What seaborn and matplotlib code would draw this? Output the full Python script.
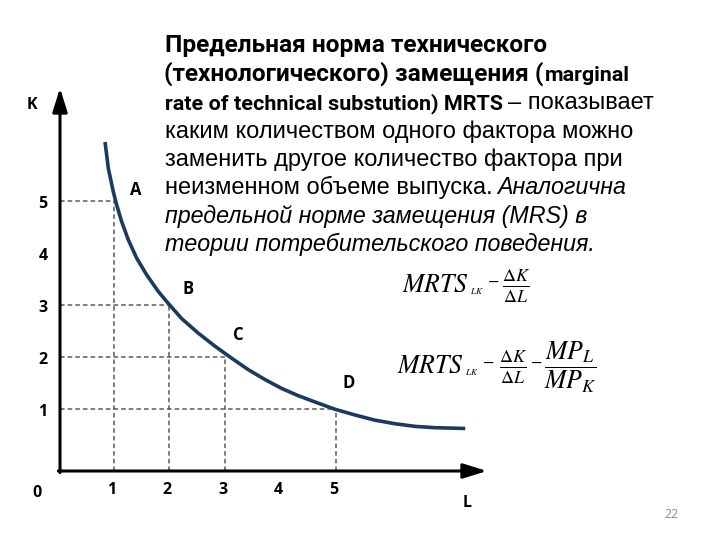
import matplotlib
matplotlib.use("Agg")
import matplotlib.pyplot as plt
import matplotlib.transforms as mtrans
import seaborn as sns

# ---------------- data ----------------
L_curve = [0.84, 0.90, 0.99, 1.05, 1.14, 1.26, 1.41, 1.59, 1.80, 1.98, 2.22,
           2.52, 2.82, 3.12, 3.42, 3.72, 4.02, 4.32, 4.62, 4.98, 5.34, 5.70,
           6.07, 6.43, 6.79, 7.33]
K_curve = [6.13, 5.62, 5.17, 4.92, 4.60, 4.25, 3.90, 3.58, 3.26, 3.03, 2.74,
           2.46, 2.21, 1.98, 1.76, 1.57, 1.40, 1.26, 1.14, 1.00, 0.89, 0.79,
           0.72, 0.67, 0.645, 0.63]
point_names = ["A", "B", "C", "D"]
L_points = [1, 2, 3, 5]
K_points = [5, 3, 2, 1]
x_ticks = [1, 2, 3, 4, 5]
y_ticks = [1, 2, 3, 4, 5]

# ---------------- layout ----------------
W, H = 720, 540
X0, XS = 58.4, 55.5     # pixel of L=0, pixels per unit
Y0, YS = 461.3, 52.1    # pixel of K=0, pixels per unit
label_offsets = [(22, 11), (19, 16), (13, 22), (13, 26)]

sns.set_style("white")
plt.rcParams["mathtext.fontset"] = "stix"

fig = plt.figure(figsize=(7.2, 5.4), dpi=100)
ax = fig.add_axes([0, 0, 1, 1])
ax.set_xlim(-X0 / XS, (W - X0) / XS)
ax.set_ylim((Y0 - H) / YS, Y0 / YS)
ax.axis("off")

def dx(px):
    return (px - X0) / XS

def dy(py):
    return (Y0 - py) / YS

ox, oy = dx(60), dy(471)

# dashed guide lines
guide = dict(color="#5a5a5a", lw=1.1, linestyle=(0, (3, 2)), zorder=1)
ax.hlines(K_points, ox, L_points, **guide)
ax.vlines(L_points, oy, K_points, **guide)

# isoquant
sns.lineplot(x=L_curve, y=K_curve, sort=False, ax=ax, color="#1c3a60",
             lw=2.6, zorder=3)
ax.lines[-1].set_solid_capstyle("butt")
ax.lines[-1].set_solid_joinstyle("round")

# axes with arrows
arrow = dict(arrowstyle="-|>,head_length=0.9,head_width=0.28", lw=2.2,
             color="black", shrinkA=0, shrinkB=0, mutation_scale=16)
ax.annotate("", xy=(dx(487), oy), xytext=(ox - 0.03, oy), arrowprops=arrow)
ax.annotate("", xy=(ox, dy(88)), xytext=(ox, oy - 0.03), arrowprops=arrow)

lab = dict(family=["Open Sans", "DejaVu Sans"], weight="bold", color="black",
           ha="center", va="center")

# tick labels
for v in x_ticks:
    ax.annotate(str(v), xy=(v, H - 490), xycoords=("data", "figure pixels"),
                textcoords="offset pixels", xytext=(-2, 0), fontsize=11.5, **lab)
for v in y_ticks:
    ax.annotate(str(v), xy=(43, v), xycoords=("figure pixels", "data"),
                textcoords="offset pixels", xytext=(0, -3), fontsize=11.5, **lab)
ax.annotate("0", xy=(37, H - 493), xycoords="figure pixels", fontsize=11.5, **lab)
ax.annotate("K", xy=(32, H - 105), xycoords="figure pixels", fontsize=11.5, **lab)
ax.annotate("L", xy=(467, H - 503), xycoords="figure pixels", fontsize=11.5, **lab)

# point labels
for name, lx, ky, off in zip(point_names, L_points, K_points, label_offsets):
    ax.annotate(name, xy=(lx, ky), textcoords="offset pixels", xytext=off,
                fontsize=12, **lab)

# ---------------- paragraph ----------------
fig.canvas.draw()
r = fig.canvas.get_renderer()
ID = mtrans.IdentityTransform()

BOLD = dict(family=["Roboto", "DejaVu Sans"], weight="bold")
REG = dict(family=["Liberation Sans", "DejaVu Sans"])
IT = dict(family=["Liberation Sans", "DejaVu Sans"], style="italic")

def make(s, x0, yb, style, size):
    return fig.text(x0, H - yb, s, transform=ID, fontsize=size,
                    va="baseline", ha="left", color="black", **style)

def fit_size(s, x0, x1, style, size0=16.0):
    t = make(s, 0, 0, style, size0)
    w = t.get_window_extent(renderer=r).width
    t.remove()
    return size0 * (x1 - x0) / w

sz = {
    "b": fit_size("Предельная норма технического", 165, 550, BOLD),
    "bs": fit_size("rate of technical substution) MRTS", 165, 503, BOLD),
    "r": 0.5 * (fit_size("каким количеством одного фактора можно", 165, 632, REG)
                + fit_size("заменить другое количество фактора при", 165, 623, REG)),
    "i": 0.5 * (fit_size("предельной норме замещения (MRS) в", 165, 582, IT)
                + fit_size("теории потребительского поведения.", 165, 605, IT)),
}

# x0 = None means: continue right after the previous piece
lines = [
    (52.3, [("Предельная норма технического", BOLD, "b", 165)]),
    (81, [("(технологического) замещения (", BOLD, "b", 164),
          ("marginal", BOLD, "bs", None)]),
    (109, [("rate of technical substution) MRTS", BOLD, "bs", 165),
           ("– показывает", REG, "r", 508)]),
    (137.7, [("каким количеством одного фактора можно", REG, "r", 165)]),
    (165.7, [("заменить другое количество фактора при", REG, "r", 165)]),
    (194, [("неизменном объеме выпуска.", REG, "r", 165),
           ("Аналогична", IT, "i", 497)]),
    (222.7, [("предельной норме замещения (MRS) в", IT, "i", 165)]),
    (251, [("теории потребительского поведения.", IT, "i", 165)]),
]
for yb, parts in lines:
    prev_end = None
    for s, st, key, x0 in parts:
        if x0 is None:
            x0 = prev_end + 1.5
        t = make(s, x0, yb, st, sz[key])
        prev_end = t.get_window_extent(renderer=r).x1

# ---------------- formulas ----------------
def mt(s, x0, yb, size):
    return fig.text(x0, H - yb, s, transform=ID, fontsize=size,
                    va="baseline", ha="left", color="black")

def mrts(x0, yb):
    t = mt(r"$MRTS$", x0, yb, 18.5)
    x1 = t.get_window_extent(renderer=r).x1
    mt(r"$LK$", x1 + 0.5, yb + 2, 6.5)

mrts(402, 292)
mt(r"$-$", 487, 285, 12)
mt(r"$\frac{\Delta K}{\Delta L}$", 502, 292, 18.5)

mrts(397, 373)
mt(r"$-$", 482, 366, 12)
mt(r"$\frac{\Delta K}{\Delta L}$", 499, 373, 18.5)
mt(r"$-$", 530, 366, 12)
mt(r"$\dfrac{MP_{L}}{MP_{K}}$", 544, 373, 18.5)

# page number
fig.text(672, H - 514, "22", transform=ID, fontsize=9, color="#8c8c8c",
         ha="center", va="center", family=["Open Sans", "DejaVu Sans"])

fig.savefig("out.png", dpi=100)
